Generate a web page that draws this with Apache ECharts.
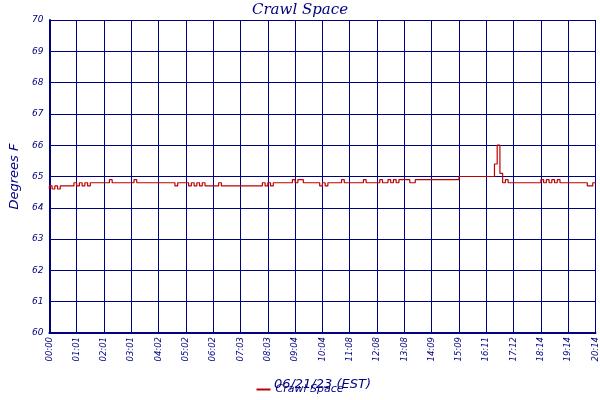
<!DOCTYPE html>
<html><head><meta charset="utf-8">
<script src="https://cdn.jsdelivr.net/npm/echarts@6/dist/echarts.min.js"></script>
<style>html,body{margin:0;padding:0;background:#fff}#c{width:600px;height:400px}</style>
</head><body><div id="c"></div>
<script>
const tickLabels = ["00:00","01:01","02:01","03:01","04:02","05:02","06:02","07:03","08:03","09:04","10:04","11:08","12:08","13:08","14:09","15:09","16:11","17:12","18:14","19:14","20:14"];
const yTicks = [60,61,62,63,64,65,66,67,68,69,70];
const temps = [
64.6,64.7,64.6,64.7,64.6,
64.7,64.7,64.7,64.7,64.7,
64.8,64.7,64.8,64.7,64.8,64.7,
64.8,64.8,64.8,64.8,64.8,64.8,64.8,
64.9,
64.8,64.8,64.8,64.8,64.8,64.8,64.8,64.8,
64.9,
64.8,64.8,64.8,64.8,64.8,64.8,64.8,64.8,64.8,64.8,64.8,64.8,64.8,64.8,
64.7,
64.8,64.8,64.8,64.8,
64.7,64.8,64.7,64.8,64.7,64.8,64.7,
64.7,64.7,64.7,64.7,
64.8,
64.7,64.7,64.7,64.7,64.7,64.7,64.7,64.7,64.7,64.7,64.7,64.7,64.7,64.7,64.7,
64.8,64.7,64.8,64.7,64.8,
64.8,64.8,64.8,64.8,64.8,64.8,
64.9,64.8,64.9,64.9,
64.8,64.8,64.8,64.8,64.8,64.8,
64.7,64.8,64.7,
64.8,64.8,64.8,64.8,64.8,
64.9,
64.8,64.8,64.8,64.8,64.8,64.8,64.8,
64.9,
64.8,64.8,64.8,64.8,64.8,
64.9,
64.8,64.8,
64.9,64.8,64.9,
64.8,64.9,
64.9,64.9,64.9,
64.8,64.8,
64.9,64.9,64.9,64.9,64.9,64.9,64.9,64.9,64.9,64.9,64.9,64.9,64.9,64.9,64.9,64.9,
65.0,65.0,65.0,65.0,65.0,65.0,65.0,65.0,65.0,65.0,65.0,65.0,65.0,
65.4,66.0,65.1,64.8,64.9,
64.8,64.8,64.8,64.8,64.8,64.8,64.8,64.8,64.8,64.8,64.8,64.8,
64.9,64.8,64.9,64.8,64.9,64.8,64.9,
64.8,64.8,64.8,64.8,64.8,64.8,64.8,64.8,64.8,64.8,
64.7,64.7,64.8
];
const navy = '#000080';
const font = 'DejaVu Sans';
const chart = echarts.init(document.getElementById('c'));
chart.setOption({
  animation:false,
  title:{text:'Crawl Space',left:'center',top:-2,textStyle:{fontFamily:'DejaVu Serif',fontStyle:'italic',fontWeight:'normal',fontSize:15,color:navy}},
  grid:{left:35,right:3,top:20,bottom:67},
  legend:{bottom:0,left:'center',itemWidth:14,itemHeight:2,icon:'rect',textStyle:{fontFamily:font,fontStyle:'italic',fontSize:11,color:navy},data:['Crawl Space']},
  xAxis:{type:'value',min:0,max:200,interval:10,
    name:'06/21/23 (EST)',nameLocation:'middle',nameGap:45,
    nameTextStyle:{fontFamily:font,fontStyle:'italic',fontSize:13,color:navy},
    axisLine:{lineStyle:{color:navy,width:2}},axisTick:{show:false},
    axisLabel:{rotate:90,fontFamily:font,fontStyle:'italic',fontSize:8.5,color:navy,margin:4,
      formatter:v=>tickLabels[Math.round(v/10)]||''},
    splitLine:{lineStyle:{color:navy,width:1}}},
  yAxis:{type:'value',min:yTicks[0],max:yTicks[yTicks.length-1],interval:1,
    name:'Degrees F',nameLocation:'middle',nameGap:24,
    nameTextStyle:{fontFamily:font,fontStyle:'italic',fontSize:13,color:navy},
    axisLine:{show:true,lineStyle:{color:navy,width:2}},axisTick:{show:false},
    axisLabel:{fontFamily:font,fontStyle:'italic',fontSize:9,color:navy,margin:6},
    splitLine:{lineStyle:{color:navy,width:1}}},
  series:[{name:'Crawl Space',type:'line',step:'start',symbol:'none',
    data:temps.map((v,i)=>[i,v]),lineStyle:{color:'#c00000',width:1.2},itemStyle:{color:'#c00000'}}]
});
</script></body></html>
